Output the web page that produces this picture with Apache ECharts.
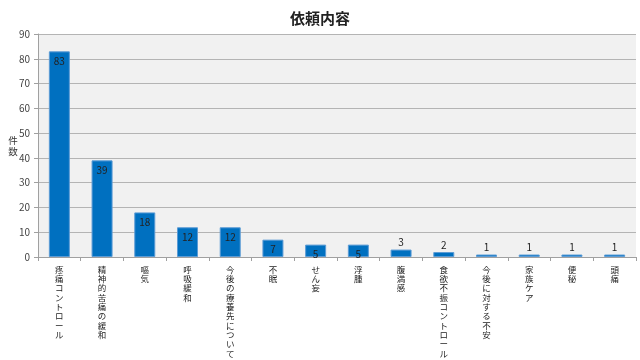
<!DOCTYPE html>
<html><head><meta charset="utf-8">
<script src="https://cdn.jsdelivr.net/npm/echarts@6/dist/echarts.min.js"></script>
<style>html,body{margin:0;padding:0;background:#fff}#c{width:640px;height:360px}</style>
</head><body><div id="c"></div>
<script>
const categories = ["疼痛コントロール","精神的苦痛の緩和","嘔気","呼吸緩和","今後の療養先について","不眠","せん妄","浮腫","腹満感","食欲不振コントロール","今後に対する不安","家族ケア","便秘","頭痛"];
const values = [83,39,18,12,12,7,5,5,3,2,1,1,1,1];
const yTicks = {min:0, max:90, interval:10};
const titleText = "依頼内容";
const yName = "件数";

const font = '"Noto Sans CJK JP", "Noto Sans", sans-serif';
const chart = echarts.init(document.getElementById('c'));
chart.setOption({
  animation:false,
  title:{text:titleText,left:'center',top:6,textStyle:{fontSize:15,fontWeight:'bold',color:'#222',fontFamily:font}},
  grid:{left:38,right:4,top:34,bottom:103,show:true,backgroundColor:'#F1F1F1',borderWidth:0,containLabel:false,outerBoundsMode:'none'},
  xAxis:{type:'category',data:categories,
    axisLine:{lineStyle:{color:'#A0A0A0'}},
    axisTick:{show:true,length:4,lineStyle:{color:'#A0A0A0'}},
    axisLabel:{interval:0,margin:8,fontSize:8.5,lineHeight:9.3,color:'#222',fontFamily:font,verticalAlign:'top',
      formatter:v=>v.split('').join('\n')}},
  yAxis:{type:'value',min:yTicks.min,max:yTicks.max,interval:yTicks.interval,
    name:yName.split('').join('\n'),nameLocation:'middle',nameRotate:0,nameGap:25,nameMoveOverlap:false,
    nameTextStyle:{fontSize:9.5,color:'#333',fontFamily:font,lineHeight:11,align:'center'},
    axisLine:{show:true,lineStyle:{color:'#A0A0A0'}},
    axisTick:{show:true,length:4,lineStyle:{color:'#A0A0A0'}},
    axisLabel:{fontSize:10,color:'#444',margin:8,fontFamily:font},
    splitLine:{lineStyle:{color:'#B4B4B4'}}},
  series:[{type:'bar',barWidth:21,
    data:values.map(v=>({value:v,label:{position:v>=5?'insideTop':'top',distance:v>=5?5:2}})),
    itemStyle:{color:'#0070C0',borderColor:'#5B9BD5',borderWidth:1},
    label:{show:true,fontSize:10,color:'#222',fontFamily:font}}]
});
</script></body></html>
